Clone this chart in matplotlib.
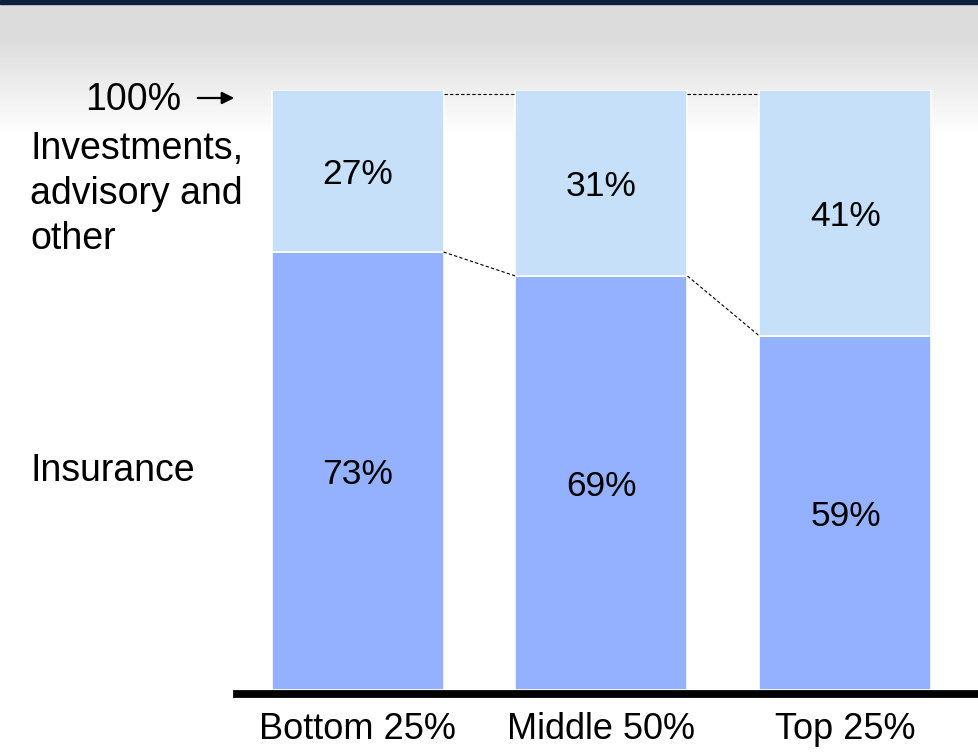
import numpy as np
import matplotlib.pyplot as plt

plt.rcParams['font.family'] = ['Liberation Sans', 'DejaVu Sans']

# ---- Revenue mix by segment ----
segments = ['Bottom 25%', 'Middle 50%', 'Top 25%']
insurance = [73, 69, 59]
investments = [27, 31, 41]

col_ins = '#93b1fe'
col_inv = '#c6e0fa'

fig = plt.figure(figsize=(9.79, 7.56), dpi=100)

# background: navy strip on top, grey fading to white
bg = fig.add_axes([0, 0, 1, 1], zorder=0)
bg.set_axis_off()
rows = np.arange(756)
shade = np.clip(220 + (rows - 40) / 95 * 35, 220, 255) / 255
img = np.repeat(shade[:, None], 2, axis=1)
bg.imshow(img, cmap='gray', vmin=0, vmax=1, aspect='auto', extent=[0, 1, 1, 0])
bg.axhspan(0, 4 / 756, color='#0b1e3a')
bg.set_xlim(0, 1)
bg.set_ylim(1, 0)

# ---- Stacked bars ----
ax = fig.add_axes([237 / 979, 66 / 756, 738 / 979, 600 / 756], zorder=1)
ax.patch.set_alpha(0)
x = np.arange(len(segments))
width = 0.705

ax.bar(x, insurance, width, color=col_ins, edgecolor='white', linewidth=1.2)
ax.bar(x, investments, width, bottom=insurance, color=col_inv, edgecolor='white', linewidth=1.2)

# value labels
for i in range(len(segments)):
    ax.text(x[i], insurance[i] / 2, f'{insurance[i]}%', ha='center', va='center_baseline', fontsize=25.5)
    ax.text(x[i], insurance[i] + investments[i] / 2, f'{investments[i]}%', ha='center',
            va='center_baseline', fontsize=25.5)

# dashed connectors between bars
for i in range(len(segments) - 1):
    x0 = x[i] + width / 2
    x1 = x[i + 1] - width / 2
    ax.plot([x0, x1], [99.4, 99.4], ls='--', color='black', lw=0.8, dashes=(3, 2))
    ax.plot([x0, x1], [insurance[i], insurance[i + 1]], ls='--', color='black', lw=0.8, dashes=(3, 2))

# thick baseline
ax.axhline(-0.6, color='black', lw=5.6, clip_on=False, zorder=3)

ax.set_xlim(-0.494, 2.531)
ax.set_ylim(0, 100)
ax.set_xticks(x)
ax.set_xticklabels(segments, fontsize=26)
ax.tick_params(axis='x', length=0, pad=16)
ax.set_yticks([])
for s in ax.spines.values():
    s.set_visible(False)

# ---- Side labels ----
fig.text(181 / 979, 1 - 100 / 756, '100%', ha='right', va='center', fontsize=27)
ax.annotate('', xy=(237 / 979, 1 - 98 / 756), xytext=(195 / 979, 1 - 98 / 756),
            xycoords='figure fraction', textcoords='figure fraction',
            arrowprops=dict(arrowstyle='-|>', color='black', lw=1.6, mutation_scale=18))
fig.text(30 / 979, 1 - 149 / 756, 'Investments,', ha='left', va='center', fontsize=27)
fig.text(30 / 979, 1 - 194 / 756, 'advisory and', ha='left', va='center', fontsize=27)
fig.text(30 / 979, 1 - 239 / 756, 'other', ha='left', va='center', fontsize=27)
fig.text(30 / 979, 1 - 471 / 756, 'Insurance', ha='left', va='center', fontsize=27)

fig.savefig('out.png', dpi=100)
